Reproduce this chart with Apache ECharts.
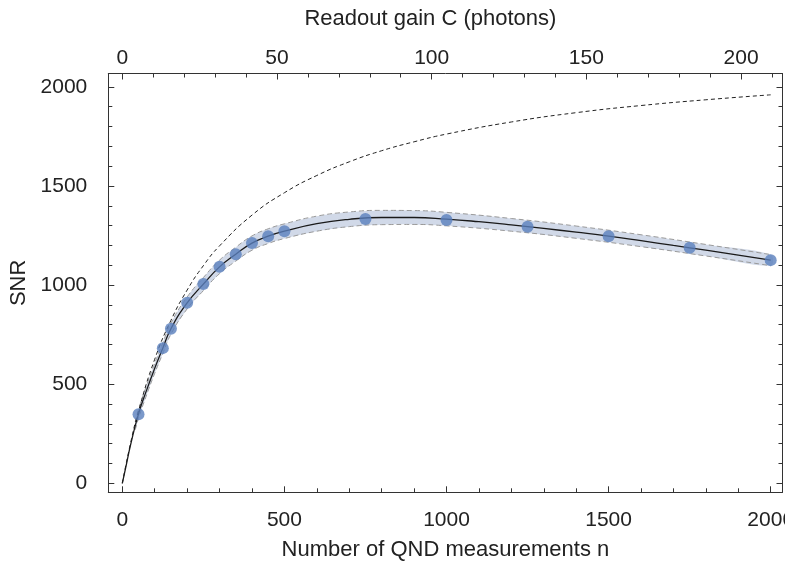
<!DOCTYPE html>
<html>
<head>
<meta charset="utf-8">
<script src="https://cdn.jsdelivr.net/npm/echarts@6/dist/echarts.min.js"></script>
<style>
html,body{margin:0;padding:0;background:#fff;}
#chart{width:785px;height:563px;}
</style>
</head>
<body>
<div id="chart"></div>
<script>
// ---- Data ----
const nFit   = [0,10,25,50,75,100,125,150,200,250,300,350,400,450,500,600,700,800,900,1000,1100,1200,1300,1400,1500,1600,1700,1800,1900,2000];
const snrFit = [0,75,190,350,470,580,682,780,910,1005,1092,1156,1212,1247,1272,1310,1332,1341,1341,1333,1320,1304,1286,1267,1247,1224,1200,1176,1151,1126];

const nMeas   = [50,125,150,200,250,300,350,400,450,500,750,1000,1250,1500,1750,2000];
const snrMeas = [348,682,780,911,1005,1092,1156,1212,1247,1272,1333,1329,1294,1247,1188,1126];

const nBand     = [40,50,75,100,125,150,200,250,300,350,400,450,500,600,700,800,900,1000,1200,1400,1600,1800,2000];
const bandLower = [270,328,446,555,655,752,880,972,1058,1121,1176,1210,1235,1272,1295,1305,1306,1299,1272,1236,1194,1147,1098];
const bandUpper = [310,372,494,605,709,808,940,1038,1126,1191,1248,1284,1309,1348,1369,1377,1376,1367,1336,1298,1254,1205,1154];

const nIdeal   = [0,25,50,100,150,200,250,300,400,500,600,700,800,900,1000,1200,1400,1600,1800,2000];
const snrIdeal = [0,199,365,626,822,975,1098,1198,1353,1466,1553,1622,1678,1723,1762,1823,1870,1906,1935,1960];

// ---- Ticks ----
const nMajorTicks = [0,500,1000,1500,2000];
const nMinorTicks = [100,200,300,400,600,700,800,900,1100,1200,1300,1400,1600,1700,1800,1900];
const cMajorTicks = [0,50,100,150,200];
const cMinorTicks = [10,20,30,40,60,70,80,90,110,120,130,140,160,170,180,190,210];
const yMajorTicks = [0,500,1000,1500,2000];
const yMinorTicks = [100,200,300,400,600,700,800,900,1100,1200,1300,1400,1600,1700,1800,1900];

const N_MIN = -43.2, N_MAX = 2036.4;
const C_MIN = -4.53, C_MAX = 213.4;
const Y_MIN = -45.4, Y_MAX = 2067.6;

const FONT = 'Liberation Sans, Arial, sans-serif';
const TXT = '#222';
const AX = '#333';
const labelStyle = {color: TXT, fontFamily: FONT, fontSize: 21};

function zip(a, b) { return a.map((v, i) => [v, b[i]]); }

function axis(pos, min, max, major, minor, opts) {
  const base = {
    type: 'value', position: pos, min: min, max: max,
    splitLine: {show: false},
    axisLine: {show: true, onZero: false, lineStyle: {color: AX, width: 1}},
  };
  const list = [];
  list.push(Object.assign({}, base, {
    axisTick: {show: true, inside: true, length: 6, customValues: major, lineStyle: {color: AX, width: 1}},
    axisLabel: Object.assign({show: opts.labels, customValues: major, formatter: v => String(v), margin: opts.margin}, labelStyle),
  }, opts.name ? {name: opts.name, nameLocation: 'middle', nameGap: opts.nameGap,
      nameTextStyle: {color: TXT, fontFamily: FONT, fontSize: 22, padding: opts.namePad || 0}} : {}));
  list.push(Object.assign({}, base, {
    axisLine: {show: false, onZero: false},
    axisTick: {show: true, inside: true, length: 4, customValues: minor, lineStyle: {color: AX, width: 1}},
    axisLabel: {show: false, customValues: minor},
  }));
  return list;
}

const xAxes = [].concat(
  axis('bottom', N_MIN, N_MAX, nMajorTicks, nMinorTicks, {labels: true, margin: 17, name: 'Number of QND measurements n', nameGap: 47}),
  axis('top', C_MIN, C_MAX, cMajorTicks, cMinorTicks, {labels: true, margin: 5, name: 'Readout gain C (photons)', nameGap: 44, namePad: [0, 30, 0, 0]})
);
const yAxes = [].concat(
  axis('left', Y_MIN, Y_MAX, yMajorTicks, yMinorTicks, {labels: true, margin: 21, name: 'SNR', nameGap: 65}),
  axis('right', Y_MIN, Y_MAX, yMajorTicks, yMinorTicks, {labels: false, margin: 8})
);

const bandRows = nBand.map((n, i) => [n, bandLower[i], bandUpper[i]]);

const option = {
  animation: false,
  backgroundColor: '#fff',
  grid: {left: 108.3, right: 2.5, top: 73.5, bottom: 70.7, containLabel: false, outerBoundsMode: 'none'},
  xAxis: xAxes,
  yAxis: yAxes,
  series: [
    {
      type: 'custom', name: 'bandFill', xAxisIndex: 0, yAxisIndex: 0, z: 1,
      data: bandRows,
      encode: {x: 0, y: [1, 2]},
      clip: true,
      renderItem: function (params, api) {
        if (params.dataIndex !== 0) return null;
        const up = bandRows.map(r => api.coord([r[0], r[2]]));
        const lo = bandRows.map(r => api.coord([r[0], r[1]])).reverse();
        return {
          type: 'polygon',
          shape: {points: up.concat(lo), smooth: 0.35},
          style: {fill: 'rgb(209,217,232)', stroke: null}
        };
      }
    },
    {
      type: 'line', name: 'bandLower', xAxisIndex: 0, yAxisIndex: 0,
      data: zip(nBand, bandLower), smooth: true, symbol: 'none', z: 2,
      lineStyle: {color: '#9a9a9a', width: 1, type: [5, 3]}
    },
    {
      type: 'line', name: 'bandUpper', xAxisIndex: 0, yAxisIndex: 0,
      data: zip(nBand, bandUpper), smooth: true, symbol: 'none', z: 2,
      lineStyle: {color: '#9a9a9a', width: 1, type: [5, 3]}
    },
    {
      type: 'line', name: 'ideal', xAxisIndex: 0, yAxisIndex: 0,
      data: zip(nIdeal, snrIdeal), smooth: true, symbol: 'none', z: 3,
      lineStyle: {color: '#222', width: 1, type: [4, 3]}
    },
    {
      type: 'line', name: 'fit', xAxisIndex: 0, yAxisIndex: 0,
      data: zip(nFit, snrFit), smooth: true, symbol: 'none', z: 4,
      lineStyle: {color: '#1a1a1a', width: 1.3}
    },
    {
      type: 'scatter', name: 'measured', xAxisIndex: 0, yAxisIndex: 0,
      data: zip(nMeas, snrMeas), symbol: 'circle', symbolSize: 12, z: 5,
      itemStyle: {color: '#5a7fbd'}
    }
  ]
};

const chart = echarts.init(document.getElementById('chart'), null, {renderer: 'canvas'});
chart.setOption(option);
</script>
</body>
</html>
